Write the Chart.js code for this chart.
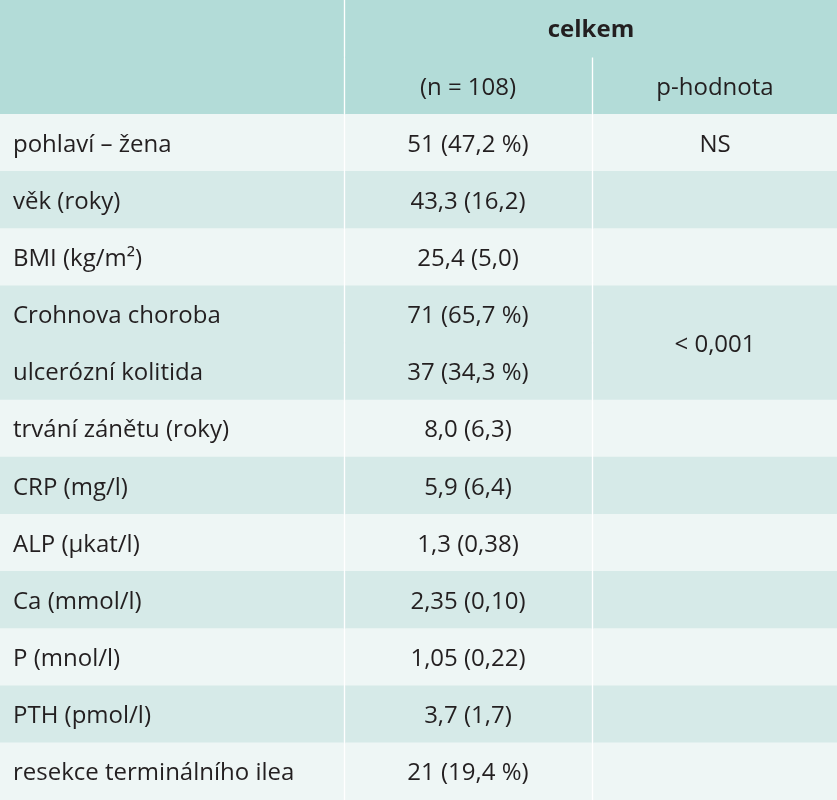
<!DOCTYPE html>
<html><head><meta charset="utf-8">
<script src="https://cdn.jsdelivr.net/npm/chart.js@4"></script>
<style>html,body{margin:0;padding:0;background:#fff}#wrap{width:837px;height:800px}</style>
</head><body><div id="wrap"><canvas id="tbl"></canvas></div>
<script>
// table content
const rowLabels = ['', '', 'pohlaví – žena', 'věk (roky)', 'BMI (kg/m²)', 'Crohnova choroba', 'ulcerózní kolitida',
  'trvání zánětu (roky)', 'CRP (mg/l)', 'ALP (µkat/l)', 'Ca (mmol/l)', 'P (mnol/l)', 'PTH (pmol/l)', 'resekce terminálního ilea'];
const totals = ['celkem', '(n = 108)', '51 (47,2 %)', '43,3 (16,2)', '25,4 (5,0)', '71 (65,7 %)', '37 (34,3 %)',
  '8,0 (6,3)', '5,9 (6,4)', '1,3 (0,38)', '2,35 (0,10)', '1,05 (0,22)', '3,7 (1,7)', '21 (19,4 %)'];
const pValues = ['', 'p-hodnota', 'NS', '', '', '< 0,001', '', '', '', '', '', '', '', ''];
// row background shade: 0 header, 1 light, 2 dark
const shades = [0, 0, 1, 2, 1, 2, 2, 1, 2, 1, 2, 1, 2, 1];
const palette = ['#b3dcd8', '#eef6f5', '#d6eae8'];

const ids = rowLabels.map((_, i) => 'r' + i);
const colA = ids.map(() => [0, 343.5]);
const colB = ids.map((_, i) => i === 0 ? [345.5, 837] : [345.5, 591.5]);
const colC = ids.map((_, i) => i === 0 ? null : [593.5, 837]);
const bg = shades.map(s => palette[s]);

const textPlugin = {
  id: 'cellText',
  afterDatasetsDraw(chart) {
    const { ctx, scales: { x, y } } = chart;
    const step = y.getPixelForValue(1) - y.getPixelForValue(0);
    ctx.save();
    ctx.fillStyle = '#231f20';
    ctx.textBaseline = 'middle';
    ids.forEach((id, i) => {
      const cy = y.getPixelForValue(i) + 2;
      ctx.font = (i === 0 ? 'bold ' : '') + '24px "Open Sans"';
      ctx.textAlign = 'left';
      ctx.fillText(rowLabels[i], x.getPixelForValue(13), cy);
      ctx.textAlign = 'center';
      const mid = i === 0 ? x.getPixelForValue(591) : x.getPixelForValue(468);
      ctx.fillText(totals[i], mid, cy);
      // merged p-value cell spans Crohn + UC rows
      const py = i === 5 ? cy + step / 2 : cy;
      ctx.fillText(pValues[i], x.getPixelForValue(715), py);
    });
    ctx.restore();
  }
};

new Chart(document.getElementById('tbl'), {
  type: 'bar',
  plugins: [textPlugin],
  data: {
    labels: ids,
    datasets: [
      { data: colA, backgroundColor: bg },
      { data: colB, backgroundColor: bg },
      { data: colC, backgroundColor: bg }
    ]
  },
  options: {
    indexAxis: 'y',
    responsive: true,
    maintainAspectRatio: false,
    animation: false,
    layout: { padding: 0 },
    datasets: { bar: { categoryPercentage: 1, barPercentage: 1, grouped: false, borderWidth: 0 } },
    scales: {
      x: { type: 'linear', min: 0, max: 837, display: false },
      y: { display: false, offset: true }
    },
    plugins: { legend: { display: false }, tooltip: { enabled: false } }
  }
});
</script></body></html>
